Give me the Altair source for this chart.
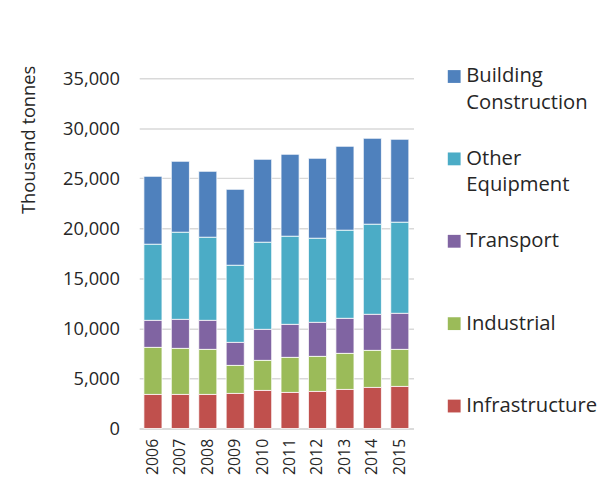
import altair as alt
import pandas as pd

years = ["2006", "2007", "2008", "2009", "2010", "2011", "2012", "2013", "2014", "2015"]
categories = ["Building Construction", "Other Equipment", "Transport", "Industrial", "Infrastructure"]
colors = ["#4F81BD", "#4BACC6", "#8064A2", "#9BBB59", "#C0504D"]

infrastructure = [3400, 3400, 3400, 3500, 3800, 3600, 3700, 3900, 4100, 4200]
industrial = [4700, 4600, 4500, 2800, 3000, 3500, 3500, 3600, 3700, 3700]
transport = [2700, 2900, 2900, 2300, 3100, 3300, 3400, 3500, 3600, 3600]
other_equipment = [7600, 8700, 8300, 7700, 8700, 8800, 8400, 8800, 9000, 9100]
building_construction = [6800, 7100, 6600, 7600, 8300, 8200, 8000, 8400, 8600, 8300]

series = {
    "Building Construction": building_construction,
    "Other Equipment": other_equipment,
    "Transport": transport,
    "Industrial": industrial,
    "Infrastructure": infrastructure,
}

rows = []
for cat, vals in series.items():
    for y, v in zip(years, vals):
        rows.append({"Year": y, "Category": cat, "Value": v,
                     "StackOrder": 4 - categories.index(cat)})
df = pd.DataFrame(rows)

FONT = "Open Sans"
TXT = "#262626"

label_expr = ("datum.label == 'Building Construction' ? ['Building', 'Construction'] : "
              "datum.label == 'Other Equipment' ? ['Other', 'Equipment'] : datum.label")

chart = alt.Chart(df).mark_bar(stroke="white", strokeWidth=0.8).encode(
    x=alt.X("Year:N", title=None,
            scale=alt.Scale(paddingInner=0.34, paddingOuter=0.17),
            axis=alt.Axis(labelAngle=270, labelFontSize=16, labelFont=FONT, labelColor=TXT,
                          labelPadding=10, ticks=False, tickSize=0,
                          domainColor="#D9D9D9", domainWidth=1.5)),
    y=alt.Y("Value:Q", title="Thousand tonnes",
            scale=alt.Scale(domain=[0, 35000], nice=False),
            axis=alt.Axis(values=[0, 5000, 10000, 15000, 20000, 25000, 30000, 35000],
                          format=",.0f", labelFontSize=18.5, labelFont=FONT, labelColor=TXT,
                          labelPadding=20, ticks=False, tickSize=0, domain=False,
                          gridColor="#D9D9D9", gridWidth=1.5,
                          titleFont=FONT, titleFontSize=18.5, titleFontWeight="normal",
                          titleColor=TXT, titleAngle=270, titleX=-106, titleY=62,
                          titleAlign="center", titleBaseline="alphabetic")),
    color=alt.Color("Category:N", title=None,
                    scale=alt.Scale(domain=categories, range=colors),
                    legend=alt.Legend(orient="none", legendX=309, legendY=-12, padding=0,
                                      symbolType="square", symbolSize=169,
                                      symbolStrokeWidth=0, labelFont=FONT,
                                      labelFontSize=20.5, labelColor=TXT,
                                      labelOffset=2, labelLimit=300,
                                      labelExpr=label_expr,
                                      gridAlign="all", rowPadding=35.5)),
    order=alt.Order("StackOrder:Q", sort="ascending"),
).properties(
    width=278, height=355,
    autosize=alt.AutoSizeParams(type="none"),
    padding={"left": 133, "top": 68, "right": 187, "bottom": 47},
).configure(style={"guide-label": {"lineHeight": 27}}).configure_view(stroke=None)

chart.save("out.html", embed_options={"renderer": "svg", "actions": False})
